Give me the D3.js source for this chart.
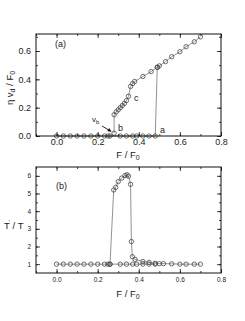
<!DOCTYPE html>
<html><head><meta charset="utf-8">
<script src="https://cdn.jsdelivr.net/npm/d3@7"></script>
<style>body{margin:0;background:#fff}svg{display:block}text{font-family:"Liberation Sans",Arial,sans-serif;fill:#222}</style>
</head><body><svg id="c" width="245" height="321"></svg>
<script>
// Panel (a): drift velocity vs force
const aLowerF = [0.0,0.033,0.067,0.1,0.133,0.167,0.2,0.233,0.25,0.26,0.31,0.34,0.37,0.39,0.42,0.45,0.48,0.49];
const aLowerV = [0,0,0,0,0,0,0,0,0,0,0,0,0,0,0,0,0,0.485];
const aUpperF = [0.28,0.28,0.29,0.30,0.31,0.32,0.33,0.34,0.35,0.36,0.37,0.38,0.42,0.46,0.49,0.50,0.53,0.56,0.60,0.63,0.67,0.70];
const aUpperV = [0.02,0.15,0.17,0.185,0.20,0.215,0.23,0.25,0.28,0.35,0.37,0.385,0.42,0.455,0.485,0.495,0.525,0.56,0.595,0.63,0.665,0.70];
// Panel (b): effective temperature ratio
const bLowerF = [0.0,0.033,0.067,0.1,0.133,0.167,0.2,0.233,0.25,0.26,0.31,0.34,0.37,0.39,0.42,0.45,0.48];
const bLowerT = [1,1,1,1,1,1,1,1,1,1,1,1,1,1,1,1,1];
const bUpperF = [0.26,0.278,0.288,0.30,0.317,0.333,0.343,0.35,0.36,0.364,0.369,0.382,0.42,0.45,0.48,0.50,0.52,0.56,0.60,0.63,0.67,0.70];
const bUpperT = [1.0,5.2,5.35,5.67,5.87,6.02,6.06,5.98,5.52,2.28,1.42,1.27,1.15,1.1,1.05,1.03,1.03,1.02,1.0,1.0,1.0,1.0];
const xTicks = [0.0,0.2,0.4,0.6,0.8];
const aYTicks = [0.0,0.2,0.4,0.6];
const bYTicks = [1,2,3,4,5,6];

const svg = d3.select("#c");
const x = d3.scaleLinear([-0.1,0.8],[36,221]);
const yA = d3.scaleLinear([0,0.72],[136,34]);
const yB = d3.scaleLinear([0.5,6.5],[273,167]);

function frame(g, xs, ys, yMaj, yMin, xFs, yFs, yFmt, xLabOff){
  const [x0,x1] = xs.range(), [y0,y1] = ys.range();
  const xMin = d3.range(-0.1,0.801,0.1).map(v=>+v.toFixed(2));
  g.append("g").attr("transform",`translate(0,${y0})`)
    .call(d3.axisBottom(xs).tickValues(xMin).tickSize(-2).tickFormat("")).call(s=>s.select(".domain").remove());
  const bx = g.append("g").attr("transform",`translate(0,${y0})`)
    .call(d3.axisBottom(xs).tickValues(xTicks).tickSizeInner(-4).tickSizeOuter(0).tickPadding(xLabOff).tickFormat(d3.format(".1f")));
  bx.select(".domain").remove();
  bx.selectAll("text").attr("font-size",xFs).attr("fill","#222");
  g.append("g").attr("transform",`translate(0,${y1})`)
    .call(d3.axisTop(xs).tickValues(xMin).tickSize(-2).tickFormat("")).call(s=>s.select(".domain").remove());
  g.append("g").attr("transform",`translate(0,${y1})`)
    .call(d3.axisTop(xs).tickValues(xTicks).tickSize(-4).tickFormat("")).call(s=>s.select(".domain").remove());
  g.append("g").attr("transform",`translate(${x0},0)`)
    .call(d3.axisLeft(ys).tickValues(yMin).tickSize(-2).tickFormat("")).call(s=>s.select(".domain").remove());
  const ly = g.append("g").attr("transform",`translate(${x0},0)`)
    .call(d3.axisLeft(ys).tickValues(yMaj).tickSizeInner(-4).tickSizeOuter(0).tickPadding(5).tickFormat(yFmt));
  ly.select(".domain").remove();
  ly.selectAll("text").attr("font-size",yFs).attr("fill","#222");
  g.append("g").attr("transform",`translate(${x1},0)`)
    .call(d3.axisRight(ys).tickValues(yMin).tickSize(-2).tickFormat("")).call(s=>s.select(".domain").remove());
  g.append("g").attr("transform",`translate(${x1},0)`)
    .call(d3.axisRight(ys).tickValues(yMaj).tickSize(-4).tickFormat("")).call(s=>s.select(".domain").remove());
  g.selectAll(".tick line").attr("stroke","#111").attr("stroke-width",0.8);
  g.append("rect").attr("x",x0).attr("y",y1).attr("width",x1-x0).attr("height",y0-y1)
    .attr("fill","none").attr("stroke","#111").attr("stroke-width",1);
}

function series(g, xs, ys, X, Y){
  const pts = X.map((v,i)=>[xs(v), ys(Y[i])]);
  g.append("path").attr("d", d3.line()(pts)).attr("fill","none").attr("stroke","#777").attr("stroke-width",0.8);
  g.selectAll(null).data(pts).enter().append("circle")
    .attr("cx",d=>d[0]).attr("cy",d=>d[1]).attr("r",2.2)
    .attr("fill","none").attr("stroke","#333").attr("stroke-width",0.7);
}

// Panel (a)
const gA = svg.append("g");
series(gA, x, yA, aLowerF, aLowerV);
series(gA, x, yA, aUpperF, aUpperV);
frame(gA, x, yA, aYTicks, d3.range(0,0.71,0.1).map(v=>+v.toFixed(2)), 9, 9, d3.format(".1f"), 3);
gA.append("text").attr("x",55).attr("y",47).attr("font-size",9).text("(a)");
gA.append("text").attr("x",134).attr("y",101).attr("font-size",9).text("c");
gA.append("text").attr("x",118).attr("y",131).attr("font-size",9).text("b");
gA.append("text").attr("x",160).attr("y",133).attr("font-size",9).text("a");
const vb = gA.append("text").attr("x",92).attr("y",122).attr("font-size",8).text("v");
vb.append("tspan").attr("dy",2).attr("font-size",6).text("b");
gA.append("line").attr("x1",102).attr("y1",126).attr("x2",110.5).attr("y2",131)
  .attr("stroke","#111").attr("stroke-width",0.9);
gA.append("path").attr("d","M111.5,131.8 L107.3,131.2 L109.2,127.9 Z").attr("fill","#111");
const ta = gA.append("text").attr("font-size",9.5).attr("text-anchor","middle").attr("transform","translate(13,88) rotate(-90)");
ta.append("tspan").text("η v");
ta.append("tspan").attr("dy",2).attr("font-size",7).text("d");
ta.append("tspan").attr("dy",-2).text(" / F");
ta.append("tspan").attr("dy",2).attr("font-size",7).text("0");
const xa = gA.append("text").attr("x",128).attr("y",158).attr("font-size",9.5).attr("text-anchor","middle");
xa.append("tspan").text("F / F");
xa.append("tspan").attr("dy",2).attr("font-size",7).text("0");

// Panel (b)
const gB = svg.append("g");
series(gB, x, yB, bLowerF, bLowerT);
series(gB, x, yB, bUpperF, bUpperT);
frame(gB, x, yB, bYTicks, d3.range(1,6.01,0.5), 6.5, 6.5, d3.format("d"), 4);
gB.append("text").attr("x",56).attr("y",189).attr("font-size",9).text("(b)");
const tb = gB.append("text").attr("x",4).attr("y",229).attr("font-size",9.5);
tb.append("tspan").text("T");
tb.append("tspan").attr("dx",-1).attr("dy",-5).attr("font-size",6).text("'");
tb.append("tspan").attr("dy",5).text(" / T");
const xb = gB.append("text").attr("x",128).attr("y",297).attr("font-size",9.5).attr("text-anchor","middle");
xb.append("tspan").text("F / F");
xb.append("tspan").attr("dy",2).attr("font-size",7).text("0");
</script></body></html>
